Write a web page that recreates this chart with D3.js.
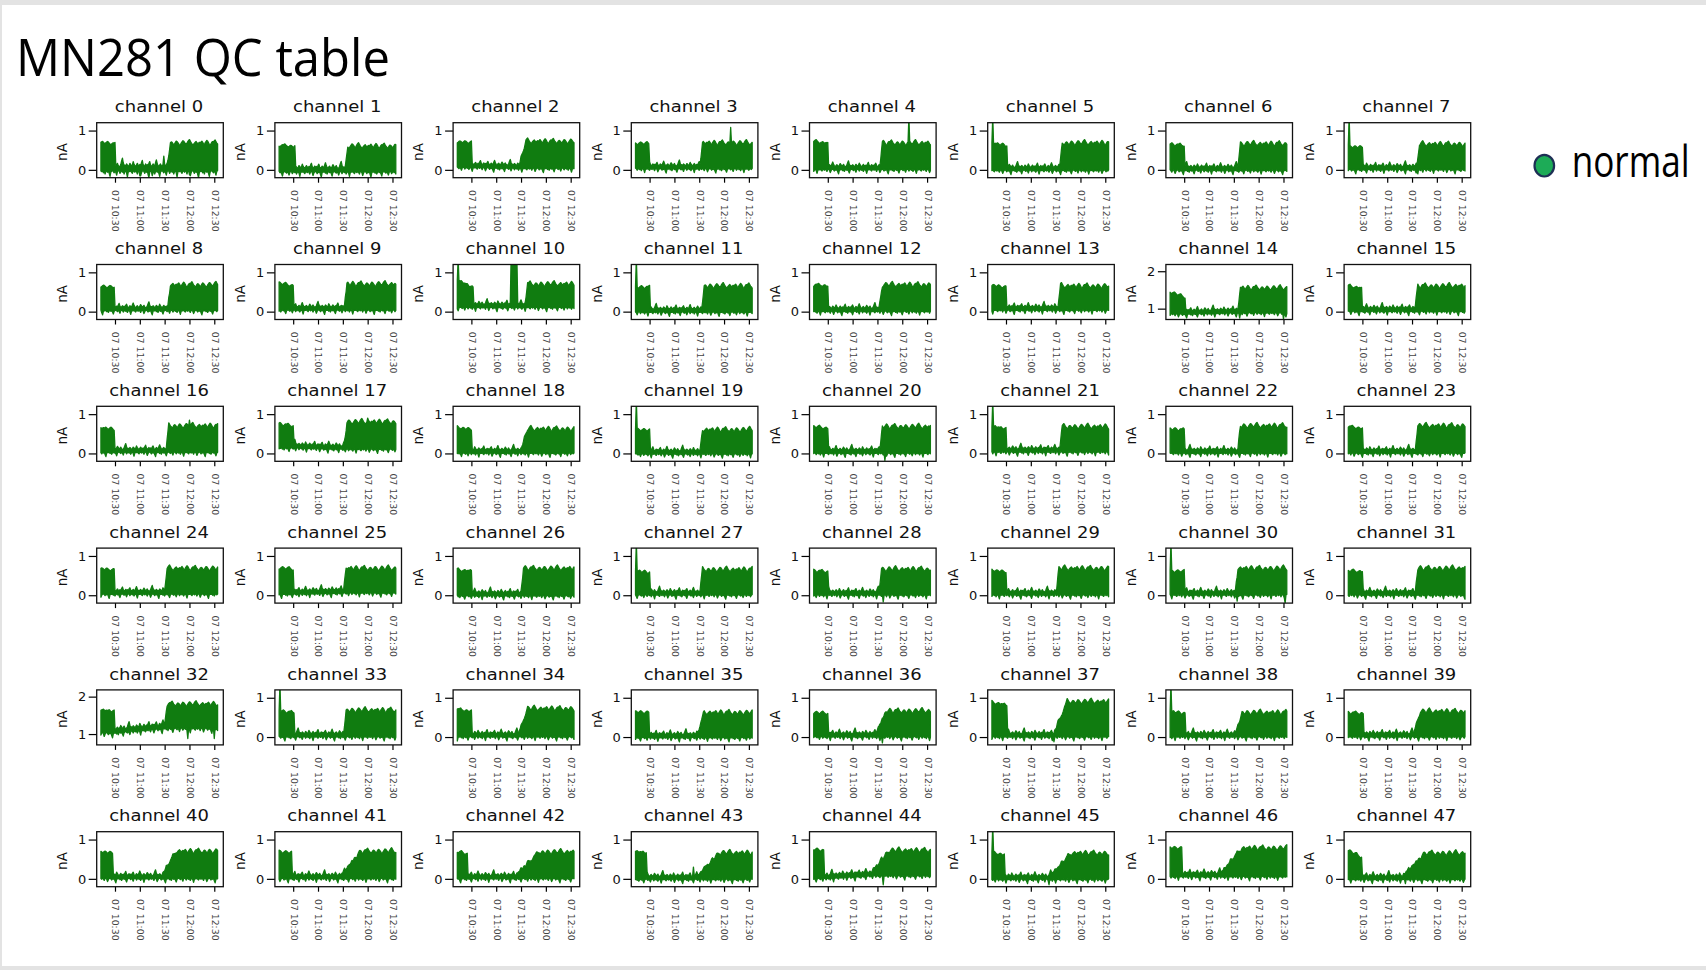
<!DOCTYPE html>
<html><head><meta charset="utf-8">
<script src="https://cdn.jsdelivr.net/npm/d3@7"></script>
<style>html,body{margin:0;padding:0;background:#fff;overflow:hidden}</style>
</head><body>
<svg id="c" width="1706" height="970"></svg>
<script>
// ---------------- data ----------------
const titleText = "MN281 QC table";
const legendLabels = ["normal"];
const channelNames = Array.from({length:48},(_,i)=>"channel "+i);
const tickTimes = ["10:30","11:00","11:30","12:00","12:30"];
const tickDay = 7;
const yTicksDefault = [0,1];
const yTicksHigh = [1,2];
const yDomainDefault = [-0.2,1.2];
const yDomainHigh = [0.71,2.18];
const highChannels = [14,32];
const dataStartMin = 13, dataEndMin = 154;   // minutes after 10:00 (10:13 .. 12:34)

// per-channel envelope values (nA) and times (minutes after 10:00)
const burstTop = [
 0.70,0.62,0.72,0.68,0.72,0.68,0.65,0.60,
 0.65,0.72,0.82,0.62,0.68,0.68,1.45,0.65,
 0.65,0.75,0.66,0.62,0.68,0.70,0.62,0.68,
 0.68,0.70,0.64,0.62,0.62,0.64,0.62,0.62,
 1.65,0.66,0.70,0.65,0.62,0.88,0.65,0.62,
 0.70,0.70,0.68,0.70,0.75,0.66,0.80,0.72];
const burstTopEnd = [
 0.66,0.60,0.70,0.66,0.68,0.62,0.62,0.58,
 0.62,0.66,0.60,0.62,0.66,0.62,1.30,0.60,
 0.62,0.70,0.62,0.58,0.64,0.62,0.60,0.64,
 0.64,0.66,0.62,0.58,0.60,0.60,0.60,0.60,
 1.60,0.62,0.66,0.62,0.60,0.82,0.60,0.60,
 0.66,0.66,0.64,0.66,0.72,0.62,0.78,0.55];
const burstEnd = [
 30,32,30,29,30,31,30,30,
 29,30,32,30,30,30,31,29,
 29,30,30,30,30,30,30,30,
 29,30,30,30,30,30,30,30,
 29,31,30,29,30,31,31,31,
 27,28,25,26,25,28,27,29];
const baseStart = [
 0.03,0.00,0.10,0.07,0.05,0.03,0.03,0.05,
 0.07,0.08,0.15,0.03,0.05,0.08,0.90,0.05,
 0.07,0.18,0.05,0.03,0.05,0.08,0.05,0.05,
 0.07,0.07,0.03,0.05,0.05,0.05,0.05,0.05,
 1.08,0.05,0.05,0.03,0.05,0.05,0.05,0.05,
 0.05,0.05,0.05,0.03,0.05,0.03,0.10,0.03];
const baseEnd = [
 0.03,0.00,0.08,0.07,0.05,0.03,0.03,0.05,
 0.07,0.08,0.15,0.03,0.05,0.08,0.93,0.05,
 0.07,0.15,0.05,0.03,0.05,0.08,0.05,0.05,
 0.07,0.10,0.03,0.05,0.05,0.05,0.05,0.05,
 1.20,0.05,0.05,0.03,0.05,0.05,0.05,0.05,
 0.05,0.05,0.05,0.03,0.12,0.03,0.10,0.03];
const riseStart = [
 93,93,88,91,93,95,95,96,
 94,92,95,93,92,93,95,94,
 92,92,90,91,93,95,95,94,
 90,91,90,91,92,91,92,94,
 90,91,87,88,88,88,92,92,
 87,88,84,88,83,83,74,79];
const riseEnd = [
 97,96,96,94,96,98,98,99,
 97,95,98,96,96,96,98,97,
 95,95,98,94,96,98,98,97,
 93,94,93,94,95,94,95,97,
 93,94,98,96,101,104,100,100,
 104,112,112,114,104,109,100,106];
const activeTop = [
 0.68,0.60,0.72,0.68,0.68,0.68,0.66,0.65,
 0.68,0.70,0.70,0.65,0.68,0.65,1.55,0.65,
 0.70,0.80,0.62,0.60,0.68,0.68,0.70,0.70,
 0.68,0.68,0.68,0.65,0.66,0.68,0.68,0.68,
 1.80,0.68,0.72,0.62,0.66,0.90,0.62,0.65,
 0.70,0.70,0.68,0.66,0.72,0.65,0.78,0.65];
const quietNoise = [
 1.5,1.2,1,1,1,1,1,1,
 1,1,1,1,1,1,1,1,
 1,1,1,1,1,1,1,1,
 1,1,1,1,1,1,1,1,
 1.2,1,1,1,1,1,1,1,
 1,1,1,1,1,1,1,1];
// hand-typed texture of the noisy band edges (hundredths of nA)
const activeJag = [0,3,5,2,-2,-4,1,4,7,5,1,-3,-6,-2,2,4,3,6,8,4,0,-2,-5,-3,1,3,2,-1,-4,-2,2,5,4,1,-2,-6,-4,0,3,6,5,2,-1,-3,0,4,7,9,5,1,-2,-5,-3,0,2,4,1,-2,0,2];
const quietUp = [5,7,4,9,12,6,3,5,8,6,4,10,15,9,5,3,6,8,5,4,7,11,8,4,6,9,5,3,4,7,13,18,10,5,6,4,8,6,3,5,9,7,4,6,12,8,5,3,6,9,6,4,7,5,10,14,7,4,5,8];
const lowDip = [4,6,3,5,9,4,3,6,12,7,4,3,5,8,4,6,3,10,15,6,4,5,3,7,4,9,5,3,6,4,8,13,6,4,3,5,7,4,6,11,5,3,4,8,5,3,6,4,9,5,3,7,14,6,4,5,3,6,8,4];
// [channel, fromMin, toMin, value] upward spikes
const upperSpikes = [
 [3,128,128,1.08],[4,128,128,1.35],[5,14,14,1.35],[7,14,14,1.35],[10,14,14,1.35],[10,78,85,1.35],
 [11,14,14,1.35],[19,14,14,1.35],[21,14,14,1.35],[27,14,14,1.35],[30,14,14,1.35],[33,14,14,1.35],
 [38,14,14,1.35],[45,14,14,1.35],[0,89,89,0.35],[43,83,83,0.30],[16,120,120,0.85],[17,120,120,0.9]];
// [channel, min, value] downward dips
const lowerDips = [
 [7,97,-0.1],[14,97,0.75],[14,150,0.72],[20,99,-0.18],[28,97,-0.17],[30,94,-0.15],[30,152,-0.2],
 [32,118,0.88],[32,150,0.88],[36,96,-0.15],[37,88,-0.12],[44,97,-0.15],[45,82,-0.15],[47,82,-0.12],
 [0,60,-0.15],[0,75,-0.15],[0,120,-0.12]];

// ---------------- drawing ----------------
const svg = d3.select("#c");
svg.append("rect").attr("width",1706).attr("height",970).attr("fill","#e3e3e3");
svg.append("rect").attr("x",2).attr("y",5).attr("width",1704).attr("height",961).attr("fill","#fff");

const GREEN = "#107c10";
const BOX_W = 126.6, BOX_H = 55;
const base0 = new Date(2023,0,tickDay,10,0,0);
const tm = m => new Date(base0.getTime()+m*60000);
const x = d3.scaleTime().domain([tm(7.9),tm(160.9)]).range([0,BOX_W]);
const fmt = d3.timeFormat("%d %H:%M");
const tickDates = tickTimes.map(s=>{const [h,mm]=s.split(":").map(Number); return new Date(2023,0,tickDay,h,mm);});
const grid = d3.range(dataStartMin, dataEndMin+1, 1);

function envelope(i,t,k){
  const off=i*11;
  const jag=activeJag[(k+off)%activeJag.length]/100;
  const qu=quietUp[(k+off+5)%quietUp.length]/100*quietNoise[i];
  const ld=lowDip[(k+i*7+20)%lowDip.length]/100*quietNoise[i];
  const be=burstEnd[i], rs=riseStart[i], re=riseEnd[i];
  const b = t<=be?baseStart[i]: t>=rs?baseEnd[i]: baseStart[i]+(baseEnd[i]-baseStart[i])*(t-be)/(rs-be);
  let up;
  if(t<=be){ const f=(t-dataStartMin)/(be-dataStartMin); up=burstTop[i]+(burstTopEnd[i]-burstTop[i])*f+jag*0.6; }
  else if(t<rs) up=b+qu;
  else if(t<re){ const f=(t-rs)/(re-rs); up=(b+qu)*(1-f)+(activeTop[i]+jag)*f; }
  else up=activeTop[i]+jag;
  let lo=b-ld;
  upperSpikes.forEach(s=>{ if(s[0]===i && t>=s[1] && t<=s[2]) up=Math.max(up,s[3]); });
  lowerDips.forEach(s=>{ if(s[0]===i && t===s[1]) lo=Math.min(lo,s[2]); });
  return {t, lo, up};
}

channelNames.forEach((name,i)=>{
  const r=Math.floor(i/8), c=i%8;
  const g=svg.append("g").attr("transform",`translate(${96.7+c*178.2},${122.7+r*141.8})`);
  const hi=highChannels.includes(i);
  const y=d3.scaleLinear().domain(hi?yDomainHigh:yDomainDefault).range([BOX_H,0]);
  const pts=grid.map((t,k)=>envelope(i,t,k));
  const clipId="clip"+i;
  g.append("clipPath").attr("id",clipId).append("rect").attr("width",BOX_W).attr("height",BOX_H);
  const area=d3.area().x(d=>x(tm(d.t))).y0(d=>y(d.lo)).y1(d=>y(d.up));
  g.append("path").attr("clip-path",`url(#${clipId})`).attr("d",area(pts))
    .attr("fill",GREEN).attr("stroke",GREEN).attr("stroke-width",1.3).attr("stroke-linejoin","round");

  // y axis
  const ya=g.append("g").call(d3.axisLeft(y).tickValues(hi?yTicksHigh:yTicksDefault).tickSize(8).tickPadding(2.5).tickFormat(d3.format("d")));
  ya.select(".domain").remove();
  ya.selectAll("line").attr("stroke","#000").attr("stroke-width",1.2);
  ya.selectAll("text").attr("font-family","DejaVu Sans").attr("font-size",13).attr("fill","#111");

  // x axis
  const xa=g.append("g").attr("transform",`translate(0,${BOX_H})`)
    .call(d3.axisBottom(x).tickValues(tickDates).tickSize(5).tickFormat(fmt));
  xa.select(".domain").remove();
  xa.selectAll("line").attr("stroke","#000").attr("stroke-width",1.2);
  xa.selectAll("text").attr("font-family","DejaVu Sans").attr("font-size",9.3).attr("fill","#444")
    .attr("transform","rotate(90)").attr("text-anchor","start").attr("x",12.3).attr("y",0).attr("dy","0.33em");

  // frame
  g.append("rect").attr("width",BOX_W).attr("height",BOX_H).attr("fill","none").attr("stroke","#111").attr("stroke-width",1.3);

  // y label
  g.append("text").attr("transform",`translate(-34.7,29.3) rotate(-90)`).attr("text-anchor","middle")
    .attr("dominant-baseline","central").attr("font-family","DejaVu Sans").attr("font-size",13.5).attr("fill","#111").text("nA");

  // title
  g.append("g").attr("transform",`translate(${BOX_W/2-1},-10.4) scale(1.11,1)`)
    .append("text").attr("text-anchor","middle").attr("font-family","DejaVu Sans").attr("font-size",16.2).attr("fill","#111").text(name);
});

function fitText(sel,target){
  const w=sel.node().getComputedTextLength();
  const x0=+sel.attr("x"), y0=+sel.attr("y");
  sel.attr("transform",`translate(${x0},${y0}) scale(${target/w},1) translate(${-x0},${-y0})`);
}
const title=svg.append("text").attr("x",16).attr("y",76).attr("font-family","Open Sans").attr("font-size",52).attr("fill","#000").text(titleText);
fitText(title,374);

svg.append("ellipse").attr("cx",1544.3).attr("cy",165.7).attr("rx",9.8).attr("ry",10.8)
  .attr("fill","#1dab57").attr("stroke","#1e2f55").attr("stroke-width",2.2);
const leg=svg.append("text").attr("x",1571.7).attr("y",177.3).attr("font-family","Open Sans").attr("font-size",44).attr("fill","#000").text(legendLabels[0]);
fitText(leg,118);
</script>
</body></html>
